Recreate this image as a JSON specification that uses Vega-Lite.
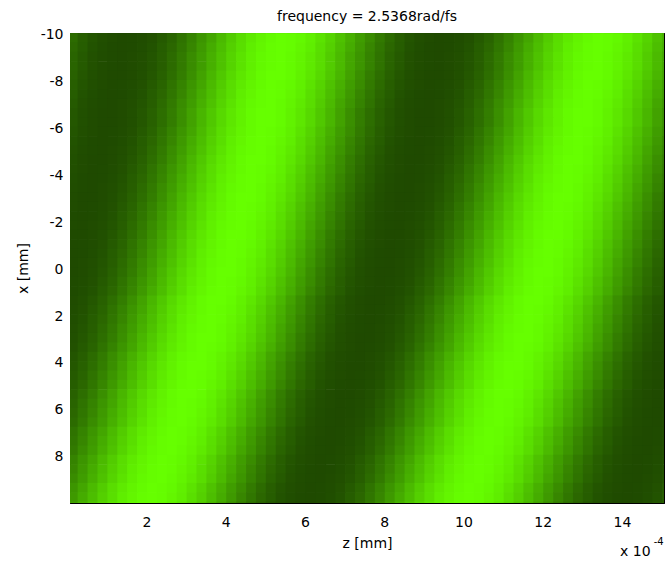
{
  "$schema": "https://vega.github.io/schema/vega-lite/v6.json",
  "width": 594,
  "height": 470,
  "autosize": "none",
  "padding": {"left": 70, "top": 33, "right": 1, "bottom": 62},
  "background": "#ffffff",
  "title": {"text": "frequency = 2.5368rad/fs", "font": "DejaVu Sans", "fontSize": 14, "fontWeight": "normal", "color": "#000000", "anchor": "middle", "offset": 4},
  "config": {
    "view": {"stroke": "#000000", "strokeWidth": 1},
    "axis": {"grid": false, "domain": true, "domainColor": "#000000", "domainWidth": 1, "zindex": 1, "tickColor": "#000000", "tickSize": -5, "tickWidth": 1, "labelFont": "DejaVu Sans", "labelFontSize": 14, "labelColor": "#000000", "titleFont": "DejaVu Sans", "titleFontSize": 14, "titleFontWeight": "normal", "titleColor": "#000000"}
  },
  "datasets": {
    "columns": [
      {"j":1,"z":0},{"j":2,"z":0.25},{"j":3,"z":0.5},{"j":4,"z":0.75},{"j":5,"z":1},{"j":6,"z":1.25},{"j":7,"z":1.5},{"j":8,"z":1.75},{"j":9,"z":2},{"j":10,"z":2.25},
      {"j":11,"z":2.5},{"j":12,"z":2.75},{"j":13,"z":3},{"j":14,"z":3.25},{"j":15,"z":3.5},{"j":16,"z":3.75},{"j":17,"z":4},{"j":18,"z":4.25},{"j":19,"z":4.5},{"j":20,"z":4.75},
      {"j":21,"z":5},{"j":22,"z":5.25},{"j":23,"z":5.5},{"j":24,"z":5.75},{"j":25,"z":6},{"j":26,"z":6.25},{"j":27,"z":6.5},{"j":28,"z":6.75},{"j":29,"z":7},{"j":30,"z":7.25},
      {"j":31,"z":7.5},{"j":32,"z":7.75},{"j":33,"z":8},{"j":34,"z":8.25},{"j":35,"z":8.5},{"j":36,"z":8.75},{"j":37,"z":9},{"j":38,"z":9.25},{"j":39,"z":9.5},{"j":40,"z":9.75},
      {"j":41,"z":10},{"j":42,"z":10.25},{"j":43,"z":10.5},{"j":44,"z":10.75},{"j":45,"z":11},{"j":46,"z":11.25},{"j":47,"z":11.5},{"j":48,"z":11.75},{"j":49,"z":12},{"j":50,"z":12.25},
      {"j":51,"z":12.5},{"j":52,"z":12.75},{"j":53,"z":13},{"j":54,"z":13.25},{"j":55,"z":13.5},{"j":56,"z":13.75},{"j":57,"z":14},{"j":58,"z":14.25},{"j":59,"z":14.5},{"j":60,"z":14.75},
      {"j":61,"z":15}
    ],
    "rows": [
      {"x0":-10.1,"v":[24,16,10,5,2,0,1,3,7,13,20,29,38,48,57,67,76,84,90,95,98,100,99,97,93,87,80,71,62,52,43,33,24,16,10,5,2,0,1,3,7,13,20,29,38,48,57,67,76,84,90,95,98,100,99,97,93,87,80,71,62]},
      {"x0":-9.7,"v":[22,15,8,4,1,0,1,4,8,15,22,31,40,50,60,69,78,85,92,96,99,100,99,96,92,85,78,69,60,50,40,31,22,15,8,4,1,0,1,4,8,15,22,31,40,50,60,69,78,85,92,96,99,100,99,96,92,85,78,69,60]},
      {"x0":-9.3,"v":[20,13,7,3,1,0,2,5,10,16,24,33,43,52,62,71,80,87,93,97,99,100,98,95,90,84,76,67,57,48,38,29,20,13,7,3,1,0,2,5,10,16,24,33,43,52,62,71,80,87,93,97,99,100,98,95,90,84,76,67,57]},
      {"x0":-8.9,"v":[20,13,7,3,1,0,2,5,10,16,24,33,43,52,62,71,80,87,93,97,99,100,98,95,90,84,76,67,57,48,38,29,20,13,7,3,1,0,2,5,10,16,24,33,43,52,62,71,80,87,93,97,99,100,98,95,90,84,76,67,57]},
      {"x0":-8.5,"v":[18,11,6,2,0,0,2,6,11,18,26,35,45,55,65,74,82,89,94,98,100,100,98,94,89,82,74,65,55,45,35,26,18,11,6,2,0,0,2,6,11,18,26,35,45,55,65,74,82,89,94,98,100,100,98,94,89,82,74,65,55]},
      {"x0":-8.1,"v":[16,10,5,2,0,1,3,7,13,20,29,38,48,57,67,76,84,90,95,98,100,99,97,93,87,80,71,62,52,43,33,24,16,10,5,2,0,1,3,7,13,20,29,38,48,57,67,76,84,90,95,98,100,99,97,93,87,80,71,62,52]},
      {"x0":-7.7,"v":[15,8,4,1,0,1,4,8,15,22,31,40,50,60,69,78,85,92,96,99,100,99,96,92,85,78,69,60,50,40,31,22,15,8,4,1,0,1,4,8,15,22,31,40,50,60,69,78,85,92,96,99,100,99,96,92,85,78,69,60,50]},
      {"x0":-7.3,"v":[13,7,3,1,0,2,5,10,16,24,33,43,52,62,71,80,87,93,97,99,100,98,95,90,84,76,67,57,48,38,29,20,13,7,3,1,0,2,5,10,16,24,33,43,52,62,71,80,87,93,97,99,100,98,95,90,84,76,67,57,48]},
      {"x0":-6.9,"v":[11,6,2,0,0,2,6,11,18,26,35,45,55,65,74,82,89,94,98,100,100,98,94,89,82,74,65,55,45,35,26,18,11,6,2,0,0,2,6,11,18,26,35,45,55,65,74,82,89,94,98,100,100,98,94,89,82,74,65,55,45]},
      {"x0":-6.5,"v":[11,6,2,0,0,2,6,11,18,26,35,45,55,65,74,82,89,94,98,100,100,98,94,89,82,74,65,55,45,35,26,18,11,6,2,0,0,2,6,11,18,26,35,45,55,65,74,82,89,94,98,100,100,98,94,89,82,74,65,55,45]},
      {"x0":-6.1,"v":[10,5,2,0,1,3,7,13,20,29,38,48,57,67,76,84,90,95,98,100,99,97,93,87,80,71,62,52,43,33,24,16,10,5,2,0,1,3,7,13,20,29,38,48,57,67,76,84,90,95,98,100,99,97,93,87,80,71,62,52,43]},
      {"x0":-5.7,"v":[8,4,1,0,1,4,8,15,22,31,40,50,60,69,78,85,92,96,99,100,99,96,92,85,78,69,60,50,40,31,22,15,8,4,1,0,1,4,8,15,22,31,40,50,60,69,78,85,92,96,99,100,99,96,92,85,78,69,60,50,40]},
      {"x0":-5.3,"v":[7,3,1,0,2,5,10,16,24,33,43,52,62,71,80,87,93,97,99,100,98,95,90,84,76,67,57,48,38,29,20,13,7,3,1,0,2,5,10,16,24,33,43,52,62,71,80,87,93,97,99,100,98,95,90,84,76,67,57,48,38]},
      {"x0":-4.9,"v":[6,2,0,0,2,6,11,18,26,35,45,55,65,74,82,89,94,98,100,100,98,94,89,82,74,65,55,45,35,26,18,11,6,2,0,0,2,6,11,18,26,35,45,55,65,74,82,89,94,98,100,100,98,94,89,82,74,65,55,45,35]},
      {"x0":-4.5,"v":[5,2,0,1,3,7,13,20,29,38,48,57,67,76,84,90,95,98,100,99,97,93,87,80,71,62,52,43,33,24,16,10,5,2,0,1,3,7,13,20,29,38,48,57,67,76,84,90,95,98,100,99,97,93,87,80,71,62,52,43,33]},
      {"x0":-4.1,"v":[4,1,0,1,4,8,15,22,31,40,50,60,69,78,85,92,96,99,100,99,96,92,85,78,69,60,50,40,31,22,15,8,4,1,0,1,4,8,15,22,31,40,50,60,69,78,85,92,96,99,100,99,96,92,85,78,69,60,50,40,31]},
      {"x0":-3.7,"v":[3,1,0,2,5,10,16,24,33,43,52,62,71,80,87,93,97,99,100,98,95,90,84,76,67,57,48,38,29,20,13,7,3,1,0,2,5,10,16,24,33,43,52,62,71,80,87,93,97,99,100,98,95,90,84,76,67,57,48,38,29]},
      {"x0":-3.3,"v":[2,0,0,2,6,11,18,26,35,45,55,65,74,82,89,94,98,100,100,98,94,89,82,74,65,55,45,35,26,18,11,6,2,0,0,2,6,11,18,26,35,45,55,65,74,82,89,94,98,100,100,98,94,89,82,74,65,55,45,35,26]},
      {"x0":-2.9,"v":[2,0,1,3,7,13,20,29,38,48,57,67,76,84,90,95,98,100,99,97,93,87,80,71,62,52,43,33,24,16,10,5,2,0,1,3,7,13,20,29,38,48,57,67,76,84,90,95,98,100,99,97,93,87,80,71,62,52,43,33,24]},
      {"x0":-2.5,"v":[1,0,1,4,8,15,22,31,40,50,60,69,78,85,92,96,99,100,99,96,92,85,78,69,60,50,40,31,22,15,8,4,1,0,1,4,8,15,22,31,40,50,60,69,78,85,92,96,99,100,99,96,92,85,78,69,60,50,40,31,22]},
      {"x0":-2.1,"v":[1,0,2,5,10,16,24,33,43,52,62,71,80,87,93,97,99,100,98,95,90,84,76,67,57,48,38,29,20,13,7,3,1,0,2,5,10,16,24,33,43,52,62,71,80,87,93,97,99,100,98,95,90,84,76,67,57,48,38,29,20]},
      {"x0":-1.7,"v":[0,0,2,6,11,18,26,35,45,55,65,74,82,89,94,98,100,100,98,94,89,82,74,65,55,45,35,26,18,11,6,2,0,0,2,6,11,18,26,35,45,55,65,74,82,89,94,98,100,100,98,94,89,82,74,65,55,45,35,26,18]},
      {"x0":-1.3,"v":[0,1,3,7,13,20,29,38,48,57,67,76,84,90,95,98,100,99,97,93,87,80,71,62,52,43,33,24,16,10,5,2,0,1,3,7,13,20,29,38,48,57,67,76,84,90,95,98,100,99,97,93,87,80,71,62,52,43,33,24,16]},
      {"x0":-0.9,"v":[0,1,4,8,15,22,31,40,50,60,69,78,85,92,96,99,100,99,96,92,85,78,69,60,50,40,31,22,15,8,4,1,0,1,4,8,15,22,31,40,50,60,69,78,85,92,96,99,100,99,96,92,85,78,69,60,50,40,31,22,15]},
      {"x0":-0.5,"v":[0,2,5,10,16,24,33,43,52,62,71,80,87,93,97,99,100,98,95,90,84,76,67,57,48,38,29,20,13,7,3,1,0,2,5,10,16,24,33,43,52,62,71,80,87,93,97,99,100,98,95,90,84,76,67,57,48,38,29,20,13]},
      {"x0":-0.1,"v":[0,2,6,11,18,26,35,45,55,65,74,82,89,94,98,100,100,98,94,89,82,74,65,55,45,35,26,18,11,6,2,0,0,2,6,11,18,26,35,45,55,65,74,82,89,94,98,100,100,98,94,89,82,74,65,55,45,35,26,18,11]},
      {"x0":0.3,"v":[1,3,7,13,20,29,38,48,57,67,76,84,90,95,98,100,99,97,93,87,80,71,62,52,43,33,24,16,10,5,2,0,1,3,7,13,20,29,38,48,57,67,76,84,90,95,98,100,99,97,93,87,80,71,62,52,43,33,24,16,10]},
      {"x0":0.7,"v":[1,4,8,15,22,31,40,50,60,69,78,85,92,96,99,100,99,96,92,85,78,69,60,50,40,31,22,15,8,4,1,0,1,4,8,15,22,31,40,50,60,69,78,85,92,96,99,100,99,96,92,85,78,69,60,50,40,31,22,15,8]},
      {"x0":1.1,"v":[2,6,11,18,26,35,45,55,65,74,82,89,94,98,100,100,98,94,89,82,74,65,55,45,35,26,18,11,6,2,0,0,2,6,11,18,26,35,45,55,65,74,82,89,94,98,100,100,98,94,89,82,74,65,55,45,35,26,18,11,6]},
      {"x0":1.5,"v":[3,7,13,20,29,38,48,57,67,76,84,90,95,98,100,99,97,93,87,80,71,62,52,43,33,24,16,10,5,2,0,1,3,7,13,20,29,38,48,57,67,76,84,90,95,98,100,99,97,93,87,80,71,62,52,43,33,24,16,10,5]},
      {"x0":1.9,"v":[4,8,15,22,31,40,50,60,69,78,85,92,96,99,100,99,96,92,85,78,69,60,50,40,31,22,15,8,4,1,0,1,4,8,15,22,31,40,50,60,69,78,85,92,96,99,100,99,96,92,85,78,69,60,50,40,31,22,15,8,4]},
      {"x0":2.3,"v":[5,10,16,24,33,43,52,62,71,80,87,93,97,99,100,98,95,90,84,76,67,57,48,38,29,20,13,7,3,1,0,2,5,10,16,24,33,43,52,62,71,80,87,93,97,99,100,98,95,90,84,76,67,57,48,38,29,20,13,7,3]},
      {"x0":2.7,"v":[6,11,18,26,35,45,55,65,74,82,89,94,98,100,100,98,94,89,82,74,65,55,45,35,26,18,11,6,2,0,0,2,6,11,18,26,35,45,55,65,74,82,89,94,98,100,100,98,94,89,82,74,65,55,45,35,26,18,11,6,2]},
      {"x0":3.1,"v":[7,13,20,29,38,48,57,67,76,84,90,95,98,100,99,97,93,87,80,71,62,52,43,33,24,16,10,5,2,0,1,3,7,13,20,29,38,48,57,67,76,84,90,95,98,100,99,97,93,87,80,71,62,52,43,33,24,16,10,5,2]},
      {"x0":3.5,"v":[10,16,24,33,43,52,62,71,80,87,93,97,99,100,98,95,90,84,76,67,57,48,38,29,20,13,7,3,1,0,2,5,10,16,24,33,43,52,62,71,80,87,93,97,99,100,98,95,90,84,76,67,57,48,38,29,20,13,7,3,1]},
      {"x0":3.9,"v":[11,18,26,35,45,55,65,74,82,89,94,98,100,100,98,94,89,82,74,65,55,45,35,26,18,11,6,2,0,0,2,6,11,18,26,35,45,55,65,74,82,89,94,98,100,100,98,94,89,82,74,65,55,45,35,26,18,11,6,2,0]},
      {"x0":4.3,"v":[13,20,29,38,48,57,67,76,84,90,95,98,100,99,97,93,87,80,71,62,52,43,33,24,16,10,5,2,0,1,3,7,13,20,29,38,48,57,67,76,84,90,95,98,100,99,97,93,87,80,71,62,52,43,33,24,16,10,5,2,0]},
      {"x0":4.7,"v":[15,22,31,40,50,60,69,78,85,92,96,99,100,99,96,92,85,78,69,60,50,40,31,22,15,8,4,1,0,1,4,8,15,22,31,40,50,60,69,78,85,92,96,99,100,99,96,92,85,78,69,60,50,40,31,22,15,8,4,1,0]},
      {"x0":5.1,"v":[18,26,35,45,55,65,74,82,89,94,98,100,100,98,94,89,82,74,65,55,45,35,26,18,11,6,2,0,0,2,6,11,18,26,35,45,55,65,74,82,89,94,98,100,100,98,94,89,82,74,65,55,45,35,26,18,11,6,2,0,0]},
      {"x0":5.5,"v":[20,29,38,48,57,67,76,84,90,95,98,100,99,97,93,87,80,71,62,52,43,33,24,16,10,5,2,0,1,3,7,13,20,29,38,48,57,67,76,84,90,95,98,100,99,97,93,87,80,71,62,52,43,33,24,16,10,5,2,0,1]},
      {"x0":5.9,"v":[22,31,40,50,60,69,78,85,92,96,99,100,99,96,92,85,78,69,60,50,40,31,22,15,8,4,1,0,1,4,8,15,22,31,40,50,60,69,78,85,92,96,99,100,99,96,92,85,78,69,60,50,40,31,22,15,8,4,1,0,1]},
      {"x0":6.3,"v":[24,33,43,52,62,71,80,87,93,97,99,100,98,95,90,84,76,67,57,48,38,29,20,13,7,3,1,0,2,5,10,16,24,33,43,52,62,71,80,87,93,97,99,100,98,95,90,84,76,67,57,48,38,29,20,13,7,3,1,0,2]},
      {"x0":6.7,"v":[29,38,48,57,67,76,84,90,95,98,100,99,97,93,87,80,71,62,52,43,33,24,16,10,5,2,0,1,3,7,13,20,29,38,48,57,67,76,84,90,95,98,100,99,97,93,87,80,71,62,52,43,33,24,16,10,5,2,0,1,3]},
      {"x0":7.1,"v":[31,40,50,60,69,78,85,92,96,99,100,99,96,92,85,78,69,60,50,40,31,22,15,8,4,1,0,1,4,8,15,22,31,40,50,60,69,78,85,92,96,99,100,99,96,92,85,78,69,60,50,40,31,22,15,8,4,1,0,1,4]},
      {"x0":7.5,"v":[33,43,52,62,71,80,87,93,97,99,100,98,95,90,84,76,67,57,48,38,29,20,13,7,3,1,0,2,5,10,16,24,33,43,52,62,71,80,87,93,97,99,100,98,95,90,84,76,67,57,48,38,29,20,13,7,3,1,0,2,5]},
      {"x0":7.9,"v":[38,48,57,67,76,84,90,95,98,100,99,97,93,87,80,71,62,52,43,33,24,16,10,5,2,0,1,3,7,13,20,29,38,48,57,67,76,84,90,95,98,100,99,97,93,87,80,71,62,52,43,33,24,16,10,5,2,0,1,3,7]},
      {"x0":8.3,"v":[40,50,60,69,78,85,92,96,99,100,99,96,92,85,78,69,60,50,40,31,22,15,8,4,1,0,1,4,8,15,22,31,40,50,60,69,78,85,92,96,99,100,99,96,92,85,78,69,60,50,40,31,22,15,8,4,1,0,1,4,8]},
      {"x0":8.7,"v":[43,52,62,71,80,87,93,97,99,100,98,95,90,84,76,67,57,48,38,29,20,13,7,3,1,0,2,5,10,16,24,33,43,52,62,71,80,87,93,97,99,100,98,95,90,84,76,67,57,48,38,29,20,13,7,3,1,0,2,5,10]},
      {"x0":9.1,"v":[48,57,67,76,84,90,95,98,100,99,97,93,87,80,71,62,52,43,33,24,16,10,5,2,0,1,3,7,13,20,29,38,48,57,67,76,84,90,95,98,100,99,97,93,87,80,71,62,52,43,33,24,16,10,5,2,0,1,3,7,13]},
      {"x0":9.5,"v":[50,60,69,78,85,92,96,99,100,99,96,92,85,78,69,60,50,40,31,22,15,8,4,1,0,1,4,8,15,22,31,40,50,60,69,78,85,92,96,99,100,99,96,92,85,78,69,60,50,40,31,22,15,8,4,1,0,1,4,8,15]},
      {"x0":9.9,"v":[55,65,74,82,89,94,98,100,100,98,94,89,82,74,65,55,45,35,26,18,11,6,2,0,0,2,6,11,18,26,35,45,55,65,74,82,89,94,98,100,100,98,94,89,82,74,65,55,45,35,26,18,11,6,2,0,0,2,6,11,18]}
    ]
  },
  "layer": [
    {
      "data": {"name": "rows"},
      "transform": [
        {"flatten": ["v"]},
        {"window": [{"op": "row_number", "as": "j"}], "groupby": ["x0"]},
        {"lookup": "j", "from": {"data": {"name": "columns"}, "key": "j", "fields": ["z"]}}
      ],
      "mark": {"type": "rect", "binSpacing": 0, "clip": true},
      "encoding": {
        "x": {"field": "z", "type": "quantitative", "bin": {"binned": true, "step": 0.27}, "scale": {"domain": [0.07, 15.06], "nice": false, "zero": false}, "axis": {"orient": "bottom", "values": [2, 4, 6, 8, 10, 12, 14], "labelExpr": "'' + datum.value", "labelPadding": 17, "title": "z [mm]", "titlePadding": 7}},
        "y": {"field": "x0", "type": "quantitative", "bin": {"binned": true, "step": 0.43}, "scale": {"domain": [-10.08, 9.98], "nice": false, "zero": false, "reverse": true}, "axis": {"orient": "left", "values": [-10, -8, -6, -4, -2, 0, 2, 4, 6, 8], "labelExpr": "'' + datum.value", "labelPadding": 12, "title": "x [mm]", "titlePadding": 10}},
        "color": {"field": "v", "type": "quantitative", "scale": {"type": "pow", "exponent": 1.2, "domain": [0, 100], "range": ["#1f4a00", "#66ff00"], "clamp": true, "interpolate": "rgb"}, "legend": null}
      }
    },
    {
      "data": {"values": [{"z": 5, "x0": 0}]},
      "mark": {"type": "point", "opacity": 0},
      "encoding": {
        "x": {"field": "z", "type": "quantitative", "scale": {"domain": [0.07, 15.06], "nice": false, "zero": false}, "axis": {"orient": "top", "values": [2, 4, 6, 8, 10, 12, 14], "labels": false, "title": null}},
        "y": {"field": "x0", "type": "quantitative", "scale": {"domain": [-10.08, 9.98], "nice": false, "zero": false, "reverse": true}, "axis": {"orient": "right", "values": [-10, -8, -6, -4, -2, 0, 2, 4, 6, 8], "labels": false, "title": null}}
      }
    },
    {
      "data": {"values": [{}]},
      "mark": {"type": "text", "font": "DejaVu Sans", "fontSize": 14, "align": "left", "baseline": "middle", "color": "#000000"},
      "encoding": {
        "x": {"datum": 13.95, "type": "quantitative", "axis": null},
        "y": {"datum": 12.07, "type": "quantitative", "axis": null},
        "text": {"value": "x 10"}
      }
    },
    {
      "data": {"values": [{}]},
      "mark": {"type": "text", "font": "DejaVu Sans", "fontSize": 10, "align": "left", "baseline": "middle", "color": "#000000"},
      "encoding": {
        "x": {"datum": 14.8, "type": "quantitative", "axis": null},
        "y": {"datum": 11.65, "type": "quantitative", "axis": null},
        "text": {"value": "-4"}
      }
    }
  ],
  "resolve": {"axis": {"x": "independent", "y": "independent"}}
}
